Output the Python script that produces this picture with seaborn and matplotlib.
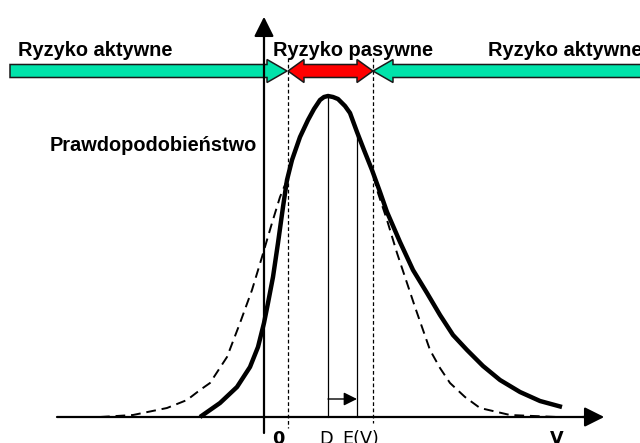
import numpy as np
import pandas as pd
import matplotlib
matplotlib.use("Agg")
import matplotlib.pyplot as plt
from matplotlib.patches import Polygon, FancyArrowPatch
import seaborn as sns

# ─────────────────────────────────────────────
# DATA (pixel units, y grows downward)
# ─────────────────────────────────────────────
W, H = 640, 443

# solid thick curve
solid_x = [200, 220, 237, 250, 258, 264, 268, 273, 278, 283, 287, 292, 300, 308, 314, 320, 324,
           328, 333, 338, 345, 350, 357, 364, 372, 380, 387, 400, 413, 427, 440, 453, 467, 483,
           500, 520, 540, 562]
solid_y = [417, 403, 387, 367, 347, 323, 303, 277, 243, 207, 180, 160, 137, 120, 109, 100, 97,
           96, 97, 99, 106, 113, 132, 150, 170, 192, 212, 242, 270, 293, 315, 335, 350, 366,
           380, 392, 401, 407]

# dashed thin curve (normal reference)
dash_x = [100, 133, 167, 187, 200, 210, 227, 240, 252, 262, 272, 280, 287, 292, 300, 308, 314,
          320, 324, 328, 333, 338, 345, 350, 357, 364, 372, 378, 387, 397, 415, 430, 440, 450,
          465, 480, 510, 557]
dash_y = [417, 415, 408, 400, 390, 383, 357, 323, 290, 257, 223, 197, 180, 160, 137, 120, 109,
          100, 97, 96, 97, 99, 106, 113, 132, 150, 170, 193, 220, 253, 307, 350, 368, 383,
          397, 408, 415, 417]

# key positions on the V axis
x_zero_axis = 264      # vertical axis
x_left_bound = 288     # start of passive zone
x_right_bound = 373    # end of passive zone
x_D = 328
x_E = 357
y_axis = 417

zone_labels = ["Ryzyko aktywne", "Ryzyko pasywne", "Ryzyko aktywne"]
zone_label_x = [18, 273, 488]
axis_labels = ["0", "D", "E(V)", "V"]
axis_label_x = [278, 326, 361, 557]
axis_label_bold = [True, False, False, True]

GREEN = "#00E3AA"
RED = "#FF0000"

# ─────────────────────────────────────────────
# FIGURE
# ─────────────────────────────────────────────
sns.set_style("white")
plt.rcParams["font.family"] = ["Liberation Sans", "DejaVu Sans"]
plt.rcParams["text.color"] = "black"

fig = plt.figure(figsize=(W / 100, H / 100), dpi=100)
ax = fig.add_axes([0, 0, 1, 1])
ax.set_xlim(0, W)
ax.set_ylim(H, 0)
ax.axis("off")


def arrow_poly(x0, x1, yc, shaft, head, hl, both=False):
    """Block arrow outline from x0 to x1 (tip at x1, or both ends)."""
    d = np.sign(x1 - x0)
    b = x1 - d * hl
    if not both:
        return [(x0, yc - shaft), (b, yc - shaft), (b, yc - head), (x1, yc),
                (b, yc + head), (b, yc + shaft), (x0, yc + shaft)]
    a = x0 + d * hl
    return [(x0, yc), (a, yc - head), (a, yc - shaft), (b, yc - shaft), (b, yc - head),
            (x1, yc), (b, yc + head), (b, yc + shaft), (a, yc + shaft), (a, yc + head)]


y_arr = 71
for pts, col in [(arrow_poly(10, x_left_bound - 1, y_arr, 6.5, 11.5, 20), GREEN),
                 (arrow_poly(W + 10, x_right_bound, y_arr, 6.5, 11.5, 20), GREEN),
                 (arrow_poly(x_left_bound, x_right_bound, y_arr, 6.5, 11.5, 16, both=True), RED)]:
    ax.add_patch(Polygon(pts, closed=True, facecolor=col, edgecolor="#1a1a1a", lw=1.1, zorder=3))

# zone boundaries (thin dashed verticals)
ax.plot([x_left_bound, x_left_bound], [58, 428], color="black", lw=0.9, ls=(0, (3, 2)), zorder=2)
ax.plot([x_right_bound, x_right_bound], [58, 423], color="black", lw=0.9, ls=(0, (3, 2)), zorder=2)

# axes with arrowheads
ax.plot([x_zero_axis, x_zero_axis], [433, 25], color="black", lw=1.6, zorder=4)
ax.add_patch(FancyArrowPatch((x_zero_axis, 40), (x_zero_axis, 14), arrowstyle="-|>,head_length=12,head_width=6",
                             mutation_scale=1, color="black", lw=1.6, zorder=4))
ax.plot([57, 595], [y_axis, y_axis], color="black", lw=1.6, zorder=4)
ax.add_patch(FancyArrowPatch((580, y_axis), (607, y_axis), arrowstyle="-|>,head_length=12,head_width=6",
                             mutation_scale=1, color="black", lw=1.6, zorder=4))

# curves
df_dash = pd.DataFrame({"x": dash_x, "y": dash_y})
df_solid = pd.DataFrame({"x": solid_x, "y": solid_y})
sns.lineplot(data=df_dash, x="x", y="y", sort=False, estimator=None, ax=ax,
             color="black", lw=1.4, zorder=5)
ax.lines[-1].set_linestyle((0, (5, 3)))
sns.lineplot(data=df_solid, x="x", y="y", sort=False, estimator=None, ax=ax,
             color="black", lw=3.2, zorder=6, solid_capstyle="butt", solid_joinstyle="round")

# D and E(V) markers
ax.plot([x_D, x_D], [96, y_axis], color="black", lw=0.9, zorder=4)
ax.plot([x_E, x_E], [133, y_axis], color="black", lw=0.9, zorder=4)
ax.add_patch(FancyArrowPatch((x_D, 399), (x_E, 399), arrowstyle="-|>,head_length=8,head_width=4",
                             mutation_scale=1, color="black", lw=1.0, zorder=4, shrinkA=0, shrinkB=0))

# labels
for lab, lx in zip(zone_labels, zone_label_x):
    ax.text(lx, 56, lab, fontsize=14.4, fontweight="bold", color="black",
            ha="left", va="baseline", zorder=7)
ax.text(50, 151, "Prawdopodobieństwo", fontsize=14.4, fontweight="bold", color="black",
        ha="left", va="baseline", zorder=7)

for lab, lx, bold in zip(axis_labels, axis_label_x, axis_label_bold):
    ax.text(lx, 443.5, lab, fontsize=12.7, fontweight="bold" if bold else "normal", color="black",
            family="DejaVu Sans", ha="center", va="baseline", zorder=7)

fig.savefig("out.png", dpi=100)
plt.close(fig)
